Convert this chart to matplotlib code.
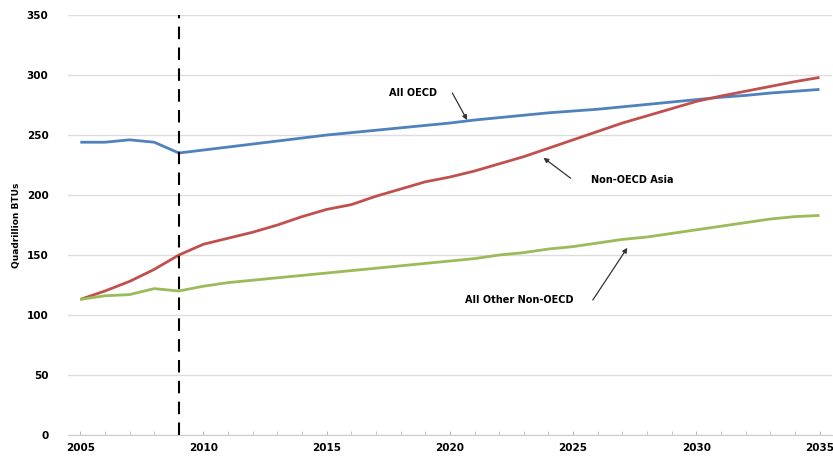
import matplotlib
matplotlib.use("Agg")
import matplotlib.pyplot as plt
from matplotlib.ticker import MultipleLocator

years = list(range(2005, 2036))
oecd = [244, 244, 246, 244, 235, 237.5, 240, 242.5, 245, 247.5, 250, 252, 254, 256, 258, 260, 262.5, 264.5,
        266.5, 268.5, 270, 271.5, 273.5, 275.5, 277.5, 279.5, 281.5, 283, 285, 286.5, 288]
asia = [113, 120, 128, 138, 150, 159, 164, 169, 175, 182, 188, 192, 199, 205, 211, 215, 220, 226, 232, 239,
        246, 253, 260, 266, 272, 278, 282.5, 286.5, 290.5, 294.5, 298]
other = [113, 116, 117, 122, 120, 124, 127, 129, 131, 133, 135, 137, 139, 141, 143, 145, 147, 150, 152, 155,
         157, 160, 163, 165, 168, 171, 174, 177, 180, 182, 183]
xtick_years = [2005, 2010, 2015, 2020, 2025, 2030, 2035]
ytick_vals = [0, 50, 100, 150, 200, 250, 300, 350]

fig = plt.figure(figsize=(8.33, 4.63), dpi=100)
ax = fig.add_axes([0.0816, 0.0605, 0.917, 0.907])

ax.plot(years, oecd, color="#4F81BD", lw=2.0, solid_capstyle="butt")
ax.plot(years, asia, color="#C0504D", lw=2.0, solid_capstyle="butt")
ax.plot(years, other, color="#9BBB59", lw=2.0, solid_capstyle="butt")
ax.axvline(2009, color="black", lw=1.5, ls=(0, (6, 4)))

ax.set_xlim(2004.5, 2035.5)
ax.set_ylim(0, 350)
ax.set_xticks(xtick_years)
ax.set_xticklabels([str(y) for y in xtick_years], fontsize=7.5, fontweight="bold")
ax.xaxis.set_minor_locator(MultipleLocator(1))
ax.set_yticks(ytick_vals)
ax.set_yticklabels([str(v) for v in ytick_vals], fontsize=7.5, fontweight="bold")
ax.tick_params(axis="y", length=0, pad=14)
ax.tick_params(axis="x", which="both", length=3, color="#BBBBBB", direction="in", pad=6)
ax.grid(axis="y", color="#DDDDDD", lw=1)
for s in ["top", "right", "left"]:
    ax.spines[s].set_visible(False)
ax.spines["bottom"].set_color("#CCCCCC")
ax.set_axisbelow(True)
ax.set_ylabel("Quadrillion BTUs", fontsize=6.5, fontweight="bold", labelpad=4)

kw = dict(fontsize=7, fontweight="bold", ha="center", va="center")
ap = dict(arrowstyle="-|>", color="#333333", lw=0.9, mutation_scale=7, shrinkA=0, shrinkB=0)
ax.text(2018.5, 285, "All OECD", **kw)
ax.annotate("", xy=(2020.7, 262.5), xytext=(2020.1, 285), arrowprops=ap)
ax.text(2027.4, 212.5, "Non-OECD Asia", **kw)
ax.annotate("", xy=(2023.8, 231), xytext=(2024.9, 214), arrowprops=ap)
ax.text(2022.8, 112.5, "All Other Non-OECD", **kw)
ax.annotate("", xy=(2027.2, 156), xytext=(2025.8, 112.5), arrowprops=ap)

fig.savefig("out.png", dpi=100)
